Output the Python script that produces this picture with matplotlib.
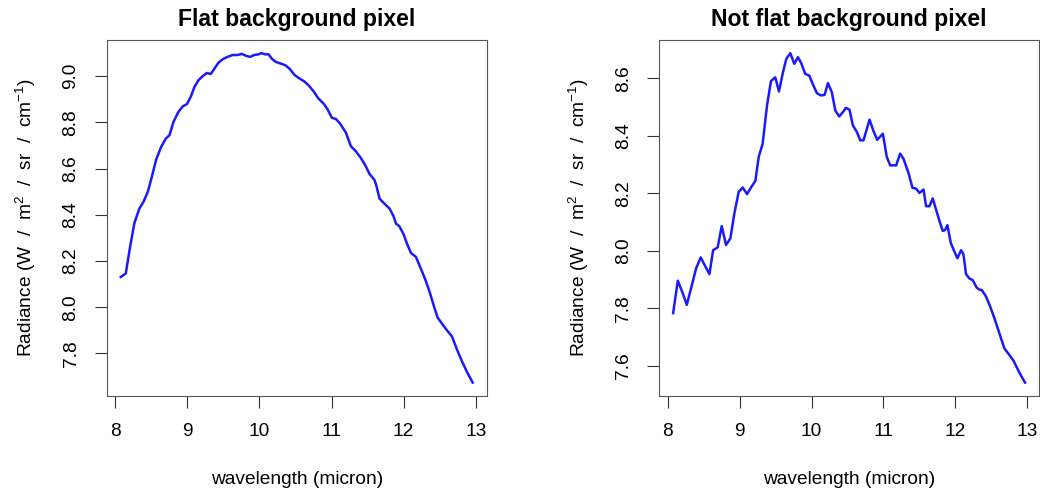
import matplotlib
matplotlib.use("Agg")
import matplotlib.pyplot as plt
import numpy as np

plt.rcParams['font.family'] = ['Liberation Sans', 'DejaVu Sans']
plt.rcParams['mathtext.fontset'] = 'custom'
plt.rcParams['mathtext.rm'] = 'Liberation Sans'

# flat background pixel spectrum
wl_flat = [8.079, 8.148, 8.208, 8.268, 8.337, 8.393, 8.453, 8.509, 8.569, 8.638,
           8.703, 8.754, 8.809, 8.878, 8.939, 8.994, 9.049, 9.100, 9.156, 9.211,
           9.271, 9.327, 9.387, 9.433, 9.493, 9.558, 9.627, 9.697, 9.757, 9.812,
           9.872, 9.928, 9.988, 10.025, 10.080, 10.127, 10.173, 10.228, 10.288, 10.358,
           10.418, 10.483, 10.543, 10.621, 10.681, 10.751, 10.820, 10.889, 10.945, 11.005,
           11.061, 11.121, 11.199, 11.269, 11.338, 11.407, 11.467, 11.527, 11.597, 11.620,
           11.666, 11.731, 11.805, 11.860, 11.893, 11.939, 11.999, 12.045, 12.101, 12.170,
           12.230, 12.300, 12.360, 12.415, 12.471, 12.531, 12.600, 12.669, 12.739, 12.808,
           12.877, 12.956]
rad_flat = [8.131, 8.146, 8.261, 8.365, 8.427, 8.456, 8.499, 8.564, 8.639, 8.694,
            8.730, 8.745, 8.802, 8.846, 8.870, 8.879, 8.911, 8.954, 8.983, 9.000,
            9.014, 9.010, 9.038, 9.059, 9.074, 9.084, 9.092, 9.092, 9.097, 9.089,
            9.084, 9.092, 9.095, 9.100, 9.095, 9.095, 9.076, 9.062, 9.056, 9.048,
            9.033, 9.007, 8.993, 8.978, 8.961, 8.935, 8.903, 8.882, 8.857, 8.820,
            8.815, 8.794, 8.756, 8.697, 8.675, 8.646, 8.615, 8.577, 8.550, 8.528,
            8.470, 8.449, 8.427, 8.394, 8.362, 8.351, 8.316, 8.276, 8.235, 8.218,
            8.173, 8.120, 8.066, 8.009, 7.955, 7.929, 7.900, 7.874, 7.817, 7.766,
            7.720, 7.674]

# not flat background pixel spectrum
wl_nf = [8.074, 8.139, 8.204, 8.264, 8.329, 8.394, 8.458, 8.519, 8.579, 8.630,
         8.694, 8.750, 8.810, 8.870, 8.926, 8.986, 9.042, 9.102, 9.162, 9.218,
         9.264, 9.319, 9.380, 9.435, 9.495, 9.546, 9.602, 9.648, 9.704, 9.759,
         9.810, 9.856, 9.912, 9.968, 10.019, 10.074, 10.130, 10.181, 10.227, 10.282,
         10.329, 10.384, 10.435, 10.477, 10.528, 10.574, 10.630, 10.676, 10.722, 10.806,
         10.861, 10.912, 10.991, 11.046, 11.093, 11.176, 11.231, 11.278, 11.347, 11.403,
         11.454, 11.500, 11.556, 11.593, 11.639, 11.685, 11.741, 11.787, 11.824, 11.856,
         11.889, 11.935, 11.981, 12.028, 12.079, 12.111, 12.148, 12.194, 12.241, 12.296,
         12.343, 12.366, 12.426, 12.481, 12.542, 12.611, 12.681, 12.750, 12.806, 12.889,
         12.968]
rad_nf = [7.783, 7.896, 7.855, 7.812, 7.875, 7.939, 7.977, 7.947, 7.919, 8.002,
          8.012, 8.086, 8.020, 8.043, 8.130, 8.205, 8.220, 8.197, 8.222, 8.243,
          8.326, 8.372, 8.505, 8.590, 8.603, 8.554, 8.621, 8.667, 8.687, 8.650,
          8.673, 8.652, 8.615, 8.609, 8.578, 8.548, 8.540, 8.542, 8.583, 8.551,
          8.488, 8.467, 8.482, 8.497, 8.490, 8.436, 8.413, 8.384, 8.384, 8.456,
          8.416, 8.386, 8.407, 8.326, 8.297, 8.297, 8.338, 8.320, 8.271, 8.219,
          8.216, 8.201, 8.213, 8.155, 8.155, 8.182, 8.135, 8.097, 8.069, 8.072,
          8.089, 8.028, 8.000, 7.974, 8.002, 7.989, 7.919, 7.904, 7.898, 7.872,
          7.864, 7.864, 7.841, 7.808, 7.766, 7.714, 7.661, 7.638, 7.619, 7.577,
          7.542]

titles = ["Flat background pixel", "Not flat background pixel"]
yticks_list = [[7.8, 8.0, 8.2, 8.4, 8.6, 8.8, 9.0],
               [7.6, 7.8, 8.0, 8.2, 8.4, 8.6]]
xticks = [8, 9, 10, 11, 12, 13]

fig = plt.figure(figsize=(10.4, 4.92), dpi=100)
ax1 = fig.add_axes([0.1026, 0.1957, 0.3654, 0.723])
ax2 = fig.add_axes([0.6337, 0.1957, 0.3654, 0.723])

for ax, x, y, title, yt in zip([ax1, ax2], [wl_flat, wl_nf], [rad_flat, rad_nf], titles, yticks_list):
    ax.plot(x, y, color='#1a1aff', linewidth=1.8)
    ax.margins(x=0.04, y=0.04)
    ax.set_xticks(xticks)
    ax.set_xticklabels([str(t) for t in xticks])
    ax.set_yticks(yt)
    ax.set_yticklabels(['%.1f' % t for t in yt], rotation=90, va='center')
    ax.tick_params(length=8.5, width=0.8, pad=11, labelsize=13.8, color='#333333')
    for sp in ax.spines.values():
        sp.set_color('#555555')
        sp.set_linewidth(0.8)
    ax.set_title(title, fontsize=16.6, fontweight='bold', pad=10)
    ax.set_xlabel('wavelength (micron)', fontsize=13.8)
    ax.xaxis.set_label_coords(0.5, -0.212)
    ax.set_ylabel(r'Radiance (W  /  m$^2$  /  sr  /  cm$^{-1}$)', fontsize=13.8)
    ax.yaxis.set_label_coords(-0.18, 0.5)

fig.savefig('out.png', dpi=100)
